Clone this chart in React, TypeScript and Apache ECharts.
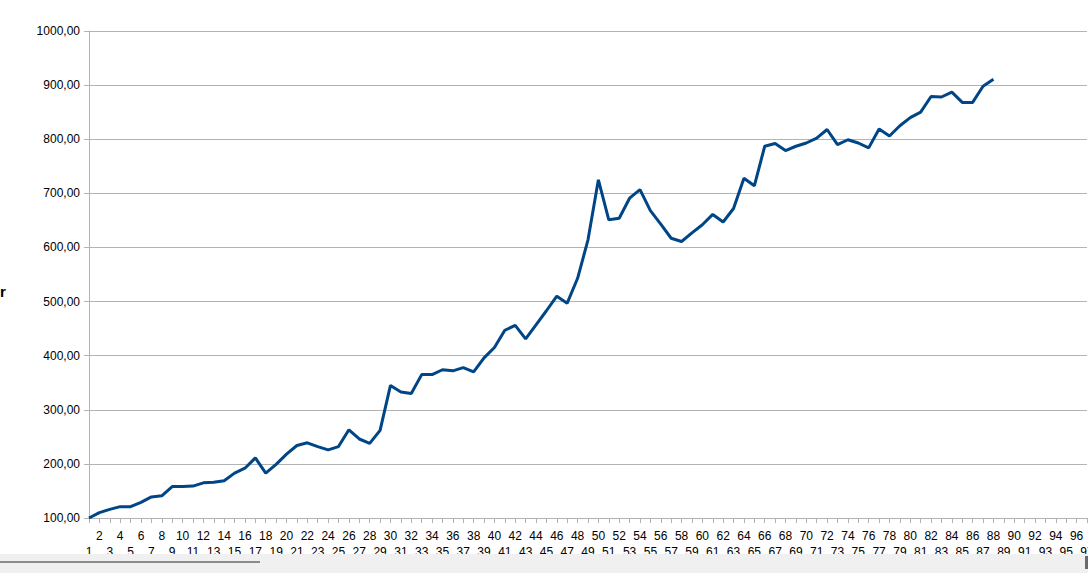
import React, { useEffect, useRef } from "react";
import * as echarts from "echarts";

const categories: string[] = [
  "1","2","3","4","5","6","7","8","9","10","11","12","13","14","15","16","17","18","19","20",
  "21","22","23","24","25","26","27","28","29","30","31","32","33","34","35","36","37","38","39","40",
  "41","42","43","44","45","46","47","48","49","50","51","52","53","54","55","56","57","58","59","60",
  "61","62","63","64","65","66","67","68","69","70","71","72","73","74","75","76","77","78","79","80",
  "81","82","83","84","85","86","87","88","89","90","91","92","93","94","95","96","97",
];

const values: number[] = [
  100, 110, 116, 121, 121, 129, 139, 141, 158, 158,
  159, 165, 166, 169, 183, 192, 211, 183, 199, 218,
  234, 239, 232, 226, 232, 263, 246, 238, 262, 345,
  333, 330, 365, 365, 374, 372, 378, 370, 396, 415,
  447, 456, 431, 457, 483, 510, 497, 543, 614, 725,
  651, 654, 691, 707, 668, 643, 617, 611, 627, 642,
  661, 647, 672, 728, 714, 787, 792, 779, 787, 793,
  802, 818, 790, 799, 793, 784, 819, 806, 825, 840,
  850, 879, 878, 887, 868, 868, 898, 911,
];

const yMin = 100;
const yMax = 1000;
const yStep = 100;

export default function App() {
  const ref = useRef<HTMLDivElement>(null);

  useEffect(() => {
    if (!ref.current) return;
    const chart = echarts.init(ref.current, null, { renderer: "svg" });
    const font = "'Liberation Sans', Arial, sans-serif";
    chart.setOption({
      animation: false,
      backgroundColor: "#ffffff",
      grid: { left: 89, right: 1, top: 31, bottom: 55, containLabel: false, outerBoundsMode: "none" },
      xAxis: {
        type: "category",
        data: categories,
        boundaryGap: false,
        axisLine: { show: true, lineStyle: { color: "#b3b3b3", width: 1 } },
        axisTick: { show: true, interval: 0, length: 5, lineStyle: { color: "#b3b3b3" } },
        axisLabel: {
          interval: 0,
          hideOverlap: false,
          margin: 10,
          color: "#000000",
          fontFamily: font,
          fontSize: 12,
          lineHeight: 16,
          formatter: (v: string, i: number) => (i % 2 === 0 ? "\n" + v : v),
        },
        splitLine: { show: false },
      },
      yAxis: {
        type: "value",
        min: yMin,
        max: yMax,
        interval: yStep,
        axisLine: { show: true, lineStyle: { color: "#b3b3b3", width: 1 } },
        axisTick: { show: true, length: 5, lineStyle: { color: "#b3b3b3" } },
        axisLabel: {
          margin: 9,
          color: "#000000",
          fontFamily: font,
          fontSize: 12,
          formatter: (v: number) => v.toFixed(2).replace(".", ","),
        },
        splitLine: { show: true, lineStyle: { color: "#b3b3b3", width: 1 } },
      },
      series: [
        {
          type: "line",
          data: values,
          showSymbol: false,
          symbol: "none",
          lineStyle: { color: "#004586", width: 3 },
          itemStyle: { color: "#004586" },
        },
      ],
      graphic: [
        {
          type: "text",
          left: 0,
          top: 284,
          style: { text: "r", font: "bold 15px 'Liberation Sans', Arial, sans-serif", fill: "#000000" },
        },
        {
          type: "rect",
          z: 100,
          shape: { x: 0, y: 554, width: 1088, height: 19 },
          style: { fill: "#f0f0f0" },
        },
        {
          type: "rect",
          z: 101,
          shape: { x: 0, y: 561, width: 260, height: 2 },
          style: { fill: "#8c8c8c" },
        },
        {
          type: "rect",
          z: 101,
          shape: { x: 1085, y: 556, width: 3, height: 13 },
          style: { fill: "#6a6a6a" },
        },
      ],
    });
    return () => chart.dispose();
  }, []);

  return (
    <div
      ref={ref}
      style={{ position: "fixed", left: 0, top: 0, width: 1088, height: 573 }}
    />
  );
}
